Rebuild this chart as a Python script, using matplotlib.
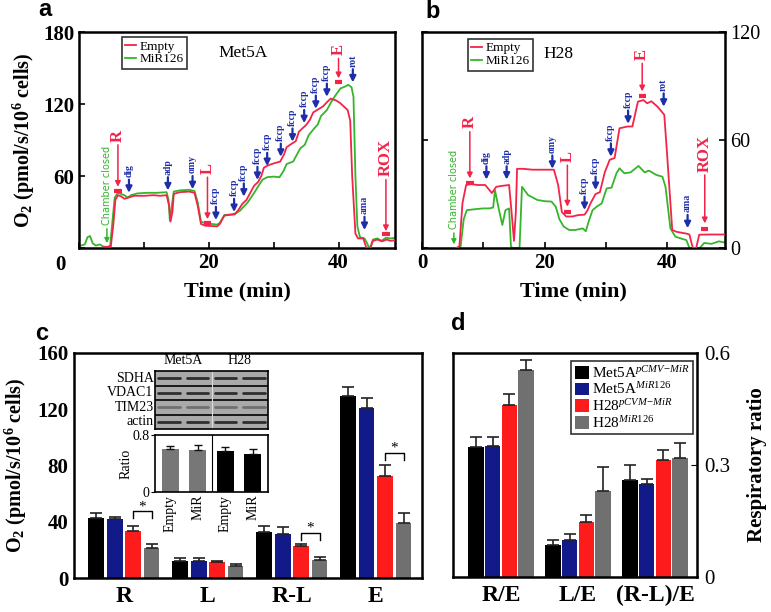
import matplotlib
matplotlib.use('Agg')
import matplotlib.pyplot as plt
import numpy as np
from matplotlib.patches import Patch

plt.rcParams['font.family'] = ['Liberation Serif', 'DejaVu Serif']
plt.rcParams['mathtext.fontset'] = 'custom'
plt.rcParams['mathtext.rm'] = 'Liberation Serif'
plt.rcParams['mathtext.it'] = 'Liberation Serif:italic'
plt.rcParams['mathtext.bf'] = 'Liberation Serif:bold'
plt.rcParams['axes.linewidth'] = 1.8

# ---------------- data: panel a (Met5A traces) ----------------
a_empty_t = [3.8, 4.9, 5.3, 5.6, 6.0, 6.5, 7.0, 7.6, 8.5, 10, 11.5, 12.5, 13.5, 13.9, 14.1, 14.4, 14.6,
             15.5, 17.0, 17.8, 18.3, 18.8, 19.5, 20.5, 21.3, 21.7, 22.4, 23.0, 24.0, 24.6, 25.2, 25.8,
             26.3, 27.0, 27.6, 28.1, 28.5, 29.2, 30.0, 31.0, 31.6, 32.0, 32.8, 33.4, 33.9, 34.5, 35.0,
             35.6, 36.1, 37.0, 37.6, 38.3, 38.8, 39.6, 40.2, 40.6, 41.4, 41.8, 42.1, 42.6, 43.0, 43.8,
             44.3, 44.9, 45.3, 46.0, 46.7, 47.4, 48.0, 48.7]
a_empty_o2 = [1, 1, 20, 40, 44, 43, 41, 42, 43.5, 43.5, 44, 43.5, 44, 35, 22, 30, 45,
              46.5, 47, 46, 35, 20, 18.5, 18.3, 18, 20, 27, 27.5, 28, 32, 37, 40,
              45, 52, 55, 60, 67, 69, 70.5, 72, 78, 84, 87, 89, 97, 100, 102.5,
              107, 113, 116, 118, 122, 124.5, 123, 121, 119, 115, 106, 60, 12, 8, 8,
              0, 0, 6, 7, 5.5, 7, 6, 6.5]
a_mir_t = [0.3, 0.9, 1.3, 1.7, 2.1, 2.6, 3.2, 3.8, 4.3, 4.8, 5.2, 5.5, 6.0, 6.5, 7.0, 7.5, 8.0, 9,
           10.5, 12, 13.5, 13.8, 14.0, 14.3, 14.6, 15.5, 17.0, 17.8, 18.3, 18.8, 19.5, 20.5, 21.3,
           21.7, 22.4, 23.5, 24.2, 24.8, 25.3, 26.0, 27.0, 27.8, 28.3, 29.0, 30.0, 30.9, 31.5, 32.0,
           33.0, 33.6, 34.1, 34.8, 35.4, 36.0, 36.8, 37.3, 38.2, 38.8, 39.5, 40.3, 41.0, 41.5, 42.0,
           42.3, 42.6, 42.9, 43.3, 44.0, 44.4, 44.7, 45.0, 45.3, 46.0, 46.6, 47.3, 48.0, 48.7]
a_mir_o2 = [2, 3, 9, 10, 4, 2, 3, 1, 0.5, 2, 25, 42, 46, 45, 44, 42, 44, 45.5,
            46, 46, 46.5, 40, 23, 35, 47, 48, 48.5, 47.5, 38, 22, 20.5, 20, 19.5,
            21, 27.5, 28, 29, 31, 34, 38, 46, 53, 57, 59, 59.5, 59, 64, 70,
            72, 78, 83, 86, 94, 98, 103, 110, 115, 121, 127, 133, 134.5, 136, 134,
            126, 60, 18, 9, 8, 4, 0, 2, 7, 8, 6, 8.5, 8, 8.5]

# ---------------- data: panel b (H28 traces) ----------------
b_empty_t = [5.6, 6.1, 6.6, 7.2, 8, 9, 10.3, 10.8, 11.4, 12.1, 13, 14.2, 14.6, 15.0, 15.3, 15.5, 16.5,
             18, 20, 21.5, 22.2, 22.8, 23.5, 24.5, 25.5, 26.5, 27.0, 27.5, 28.3, 29.0, 29.8, 30.6,
             31.4, 32.2, 33.5, 34.3, 35.2, 36.1, 36.7, 37.4, 38.4, 39.5, 40.0, 40.8, 41.5, 43.1, 43.6,
             44.0, 44.2, 44.7, 45.2, 47, 49.4]
b_empty_o2 = [0, 1, 25, 35, 35.5, 35, 35, 33, 30.5, 34, 34.5, 35, 20, 4, 20, 44, 44,
              43.5, 43.5, 43.5, 35, 20, 17.5, 17.5, 18.3, 18.5, 21, 25, 30, 31, 42, 49,
              50, 66.5, 67.5, 67.5, 81.3, 82.2, 80.4, 81.5, 78.5, 74, 50, 10, 9, 8, 7.5,
              2, 0, 0, 7.4, 7.5, 7.5]
b_mir_t = [6.1, 6.3, 6.8, 7.3, 8.5, 10, 11.0, 11.6, 11.9, 12.5, 13.1, 13.6, 14.2, 14.5, 14.7, 15.9,
           16.3, 17.3, 18.8, 20, 21.1, 21.8, 22.4, 23.1, 24, 25, 26.2, 26.7, 27.2, 27.8, 28.5, 29.3,
           30.1, 30.9, 31.7, 32.2, 33.0, 34.0, 35.3, 36.3, 37.0, 38.2, 39.2, 39.7, 40.5, 41.3, 42.5,
           43.1, 43.6, 45.3, 46.0, 47.2, 48.4, 49.4]
b_mir_o2 = [0, 1, 16, 21, 21.5, 22, 22, 22.5, 32, 22, 12.8, 21, 22, 1, 0, 0,
            34, 29.4, 26.7, 26, 25.8, 23, 16, 11.9, 10, 10, 10.9, 9.3, 15, 21, 23, 24.8,
            33.1, 33.5, 41.5, 44.3, 41.5, 42, 45.6, 42, 43, 40.6, 39.6, 34, 10.9, 6.3, 5,
            4.4, 0, 0, 2.8, 2.3, 3.7, 3]

# substrate / inhibitor additions: (label, time, arrow tip O2)
a_blue_marks = [('dig', 7.7, 46), ('adp', 13.7, 48), ('omy', 17.5, 49),
                ('fccp', 21.1, 23.3), ('fccp', 23.9, 30), ('fccp', 25.4, 42.8), ('fccp', 27.5, 56.7),
                ('fccp', 29.0, 68.3), ('fccp', 31.1, 76), ('fccp', 32.9, 88.6), ('fccp', 34.7, 104),
                ('fccp', 36.5, 116), ('fccp', 38.2, 126), ('rot', 42.2, 138), ('ama', 44.0, 15)]
# respiratory states: (label, time, arrow tip, arrow tail, bar level)
a_red_marks = [('R', 6.0, 51, 86, 47.5), ('L', 19.8, 24, 59, 20.5),
               ('E', 40.0, 141.4, 158, 138.6), ('ROX', 47.3, 14, 57, 11.5)]
b_blue_marks = [('dig', 10.5, 38), ('adp', 13.8, 38), ('omy', 21.25, 44),
                ('fccp', 26.5, 21.1), ('fccp', 28.3, 32.2), ('fccp', 30.8, 50.7), ('fccp', 33.6, 69),
                ('rot', 39.4, 78.5), ('ama', 43.3, 11)]
b_red_marks = [('R', 7.8, 38.7, 64.6, 36), ('L', 23.7, 23, 46, 20),
               ('E', 35.9, 87, 102.6, 84.4), ('ROX', 46.1, 13.7, 40.6, 10.4)]

# ---------------- data: panel c ----------------
c_groups = ['R', 'L', 'R-L', 'E']
c_met5a_pcmv = [42.7, 12.3, 32.4, 129.6]
c_met5a_pcmv_err = [3.5, 1.9, 4.8, 6.2]
c_met5a_mir = [42.0, 12.3, 31.5, 121.0]
c_met5a_mir_err = [1.4, 1.9, 4.5, 7.0]
c_h28_pcmv = [33.6, 11.4, 22.5, 72.3]
c_h28_pcmv_err = [3.1, 0.9, 1.7, 8.0]
c_h28_mir = [21.3, 8.7, 13.0, 39.0]
c_h28_mir_err = [2.9, 1.3, 1.9, 7.0]
c_sig_groups = [0, 2, 3]
c_sig_levels = [47.4, 32.0, 89.0]

# inset western blot quantification
ratio_labels = ['Empty', 'MiR', 'Empty', 'MiR']
ratio_vals = [0.61, 0.59, 0.58, 0.54]
ratio_err = [0.04, 0.075, 0.055, 0.06]
blot_rows = ['SDHA', 'VDAC1', 'TIM23', 'actin']

# ---------------- data: panel d ----------------
d_groups = ['R/E', 'L/E', '(R-L)/E']
d_met5a_pcmv = [0.349, 0.085, 0.26]
d_met5a_pcmv_err = [0.027, 0.015, 0.04]
d_met5a_mir = [0.35, 0.10, 0.25]
d_met5a_mir_err = [0.026, 0.016, 0.012]
d_h28_pcmv = [0.462, 0.146, 0.313]
d_h28_pcmv_err = [0.027, 0.019, 0.027]
d_h28_mir = [0.555, 0.23, 0.32]
d_h28_mir_err = [0.027, 0.065, 0.04]
series_names = [r'Met5A$^{pCMV\!-\!MiR}$', r'Met5A$^{MiR126}$', r'H28$^{pCVM\!-\!MiR}$', r'H28$^{MiR126}$']

RED = '#f3234a'
GREEN = '#35b52a'
BLUE = '#1d2ea8'
BAR_COLORS = ['#000000', '#111a88', '#fd1b1b', '#707070']

W, H = 771, 612
fig = plt.figure(figsize=(W / 100, H / 100), dpi=100)


def rect(l, t, r, b):
    return [l / W, 1 - b / H, (r - l) / W, (b - t) / H]


def trace_axes(ax, xlim, ylim, yticks, ysize):
    ax.set_xlim(*xlim)
    ax.set_ylim(*ylim)
    ax.set_xticks([0, 20, 40])
    ax.set_xticks([10, 30], minor=True)
    ax.set_yticks(yticks)
    ax.tick_params(which='both', direction='in', length=4, width=1.2, labelsize=15)
    ax.tick_params(axis='y', labelsize=ysize)
    for lab in ax.get_xticklabels() + ax.get_yticklabels():
        lab.set_fontweight('bold')
    ax.set_xlabel('Time (min)', fontsize=16, fontweight='bold', labelpad=6)


def marks(ax, blue_marks, red_marks, blen, chamber):
    for lab, t, tip in blue_marks:
        ax.annotate('', xy=(t, tip), xytext=(t, tip + blen),
                    arrowprops=dict(arrowstyle='-|>', color=BLUE, lw=1.6, mutation_scale=9,
                                    shrinkA=0, shrinkB=0), annotation_clip=False)
        ax.text(t, tip + blen * 1.2, lab, rotation=90, ha='center', va='bottom',
                color=BLUE, fontsize=7, fontweight='bold')
    for lab, t, tip, tail, bar in red_marks:
        ax.annotate('', xy=(t, tip), xytext=(t, tail),
                    arrowprops=dict(arrowstyle='-|>', color=RED, lw=1.1, mutation_scale=8,
                                    shrinkA=0, shrinkB=0), annotation_clip=False)
        ax.text(t, tail + blen * 0.25, lab, rotation=90, ha='center', va='bottom',
                color=RED, fontsize=12, fontweight='bold')
        ax.plot([t - 0.6, t + 0.6], [bar, bar], color=RED, lw=3, solid_capstyle='butt')
    t, tip, tail = chamber
    ax.annotate('', xy=(t, tip), xytext=(t, tail),
                arrowprops=dict(arrowstyle='-|>', color=GREEN, lw=1.1, mutation_scale=7,
                                shrinkA=0, shrinkB=0), annotation_clip=False)
    ax.text(t, tail + blen * 0.3, 'Chamber closed', rotation=90, ha='center', va='bottom',
            color=GREEN, fontsize=7, family=['DejaVu Sans'])


def box_legend(leg):
    leg.get_frame().set_edgecolor('black')
    leg.get_frame().set_linewidth(1.2)


# ---------------- panel a ----------------
ax_a = fig.add_axes(rect(79, 32, 395, 248))
ax_a.plot(a_empty_t, a_empty_o2, color=RED, lw=1.3, label='Empty', zorder=3)
ax_a.plot(a_mir_t, a_mir_o2, color=GREEN, lw=1.3, label='MiR126', zorder=2)
trace_axes(ax_a, (0, 48.7), (0, 180), [0, 60, 120, 180], 15)
ax_a.set_yticklabels(['', '60', '120', '180'])
ax_a.set_xticklabels(['', '20', '40'])
for lab in ax_a.get_xticklabels() + ax_a.get_yticklabels():
    lab.set_fontweight('bold')
ax_a.annotate('0', xy=(-0.06, 0), xycoords='axes fraction', xytext=(0, -5), textcoords='offset points',
              fontsize=15, fontweight='bold', ha='center', va='top')
ax_a.set_ylabel(r'O$_\mathbf{2}$ (pmol/s/10$^\mathbf{6}$ cells)', fontsize=14.5, fontweight='bold', labelpad=4)
marks(ax_a, a_blue_marks, a_red_marks, 11, (4.3, 4, 16))
leg = ax_a.legend(loc='upper left', bbox_to_anchor=(0.136, 0.977), fontsize=9.5, handlelength=0.8,
                  handletextpad=0.3, borderpad=0.25, labelspacing=0.05, frameon=True, fancybox=False,
                  borderaxespad=0)
box_legend(leg)
ax_a.text(0.519, 0.903, 'Met5A', fontsize=12.5, ha='center', va='center', transform=ax_a.transAxes)
fig.text(45 / W, 1 - 10 / H, 'a', fontsize=17, fontweight='bold', family='Liberation Sans', ha='center', va='center')

# ---------------- panel b ----------------
ax_b = fig.add_axes(rect(422, 32, 725, 248))
ax_b.plot(b_empty_t, b_empty_o2, color=RED, lw=1.3, label='Empty', zorder=3)
ax_b.plot(b_mir_t, b_mir_o2, color=GREEN, lw=1.3, label='MiR126', zorder=2)
trace_axes(ax_b, (0, 49.4), (0, 120), [0, 60, 120], 14.5)
ax_b.yaxis.tick_right()
ax_b.tick_params(axis='y', which='both', left=True, right=True, labelleft=False, labelright=True, pad=4)
marks(ax_b, b_blue_marks, b_red_marks, 7.4, (5.2, 2, 8.3))
leg = ax_b.legend(loc='upper left', bbox_to_anchor=(0.152, 0.968), fontsize=9.5, handlelength=0.8,
                  handletextpad=0.3, borderpad=0.25, labelspacing=0.05, frameon=True, fancybox=False,
                  borderaxespad=0)
box_legend(leg)
ax_b.text(0.45, 0.9, 'H28', fontsize=12.5, ha='center', va='center', transform=ax_b.transAxes)
fig.text(433 / W, 1 - 12 / H, 'b', fontsize=17, fontweight='bold', family='Liberation Sans', ha='center', va='center')

# ---------------- panel c ----------------
ax_c = fig.add_axes(rect(74, 353, 422, 578))
c_series = [(c_met5a_pcmv, c_met5a_pcmv_err), (c_met5a_mir, c_met5a_mir_err),
            (c_h28_pcmv, c_h28_pcmv_err), (c_h28_mir, c_h28_mir_err)]
xc = np.arange(len(c_groups))
for i, (vals, errs) in enumerate(c_series):
    ax_c.bar(xc + (i - 1.5) * 0.22, vals, width=0.185, color=BAR_COLORS[i],
             yerr=[[0] * len(errs), errs], error_kw=dict(ecolor='#222222', elinewidth=1.2, capsize=4, capthick=1.2))
for g, lev in zip(c_sig_groups, c_sig_levels):
    x1, x2 = g + 0.5 * 0.22, g + 1.5 * 0.22
    ax_c.plot([x1, x1, x2, x2], [lev - 5, lev, lev, lev - 5], color='black', lw=1)
    ax_c.text((x1 + x2) / 2, lev + 3.2, '*', ha='center', va='center', fontsize=11)
ax_c.set_xlim(-0.595, 3.548)
ax_c.set_ylim(0, 160)
ax_c.set_yticks([0, 40, 80, 120, 160])
ax_c.set_xticks(xc)
ax_c.set_xticklabels(c_groups)
ax_c.tick_params(axis='x', length=0, labelsize=17, pad=6)
ax_c.tick_params(axis='y', length=0, labelsize=15, pad=4)
for lab in ax_c.get_xticklabels() + ax_c.get_yticklabels():
    lab.set_fontweight('bold')
ax_c.set_ylabel(r'O$_\mathbf{2}$ (pmol/s/10$^\mathbf{6}$ cells)', fontsize=14.5, fontweight='bold', labelpad=6)
fig.text(42 / W, 1 - 333 / H, 'c', fontsize=17, fontweight='bold', family='Liberation Sans', ha='center', va='center')

# inset blot
ax_blot = fig.add_axes(rect(155, 371, 268, 429))
ax_blot.set_facecolor('#a9a9a9')
ax_blot.set_xlim(0, 4)
ax_blot.set_ylim(0, 4)
band_cols = ['#2e2e2e', '#2e2e2e', '#707070', '#2e2e2e']
for r in range(4):
    yc = 3.5 - r
    for lane in range(4):
        ax_blot.plot([lane + 0.12, lane + 0.88], [yc, yc], color=band_cols[r], lw=2.0, solid_capstyle='round')
    if r > 0:
        ax_blot.axhline(4 - r, color='black', lw=1.2)
ax_blot.axvline(2, color='#dddddd', lw=0.8)
ax_blot.set_xticks([])
ax_blot.set_yticks([])
for s in ax_blot.spines.values():
    s.set_linewidth(1.2)
for r, name in enumerate(blot_rows):
    ax_blot.text(-0.05, 3.5 - r, name, ha='right', va='center', fontsize=10)
ax_blot.text(1.0, 4.25, 'Met5A', ha='center', va='bottom', fontsize=10)
ax_blot.text(3.0, 4.25, 'H28', ha='center', va='bottom', fontsize=10)

# inset ratio chart
ax_r = fig.add_axes(rect(155, 435, 268, 492))
xr = np.arange(len(ratio_vals))
ax_r.bar(xr, ratio_vals, width=0.62, color=['#777777', '#777777', '#000000', '#000000'],
         yerr=[[0] * 4, ratio_err], error_kw=dict(ecolor='#111111', elinewidth=1, capsize=3, capthick=1))
ax_r.axvline(1.5, color='black', lw=0.8)
ax_r.set_xlim(-0.55, 3.55)
ax_r.set_ylim(0, 0.8)
ax_r.set_yticks([0, 0.8])
ax_r.set_yticklabels(['0', '0.8'])
ax_r.tick_params(axis='y', labelsize=10, length=3, pad=1)
ax_r.set_xticks(xr)
ax_r.set_xticklabels(ratio_labels, rotation=90, fontsize=10)
ax_r.tick_params(axis='x', length=0, pad=2)
ax_r.set_ylabel('Ratio', fontsize=10, labelpad=0)
for s in ax_r.spines.values():
    s.set_linewidth(1.2)

# ---------------- panel d ----------------
ax_d = fig.add_axes(rect(453, 353, 697, 577))
d_series = [(d_met5a_pcmv, d_met5a_pcmv_err), (d_met5a_mir, d_met5a_mir_err),
            (d_h28_pcmv, d_h28_pcmv_err), (d_h28_mir, d_h28_mir_err)]
xd = np.arange(len(d_groups))
handles = []
for i, (vals, errs) in enumerate(d_series):
    ax_d.bar(xd + (i - 1.5) * 0.217, vals, width=0.2, color=BAR_COLORS[i],
             yerr=[[0] * len(errs), errs], error_kw=dict(ecolor='#222222', elinewidth=1.2, capsize=4, capthick=1.2))
    handles.append(Patch(facecolor=BAR_COLORS[i], edgecolor='none', label=series_names[i]))
ax_d.set_xlim(-0.623, 2.545)
ax_d.set_ylim(0, 0.6)
ax_d.set_yticks([0, 0.3, 0.6])
ax_d.set_yticklabels(['0', '0.3', '0.6'])
ax_d.yaxis.tick_right()
ax_d.yaxis.set_label_position('right')
ax_d.tick_params(axis='y', direction='in', length=4, labelsize=15, pad=5)
ax_d.set_xticks(xd)
ax_d.set_xticklabels(d_groups)
ax_d.tick_params(axis='x', length=0, labelsize=17, pad=6)
for lab in ax_d.get_xticklabels():
    lab.set_fontweight('bold')
ax_d.set_ylabel('Respiratory ratio', fontsize=15, fontweight='bold', labelpad=12)
leg = ax_d.legend(handles=handles, loc='upper right', bbox_to_anchor=(0.985, 0.965), fontsize=11,
                  handlelength=0.9, handleheight=0.9, handletextpad=0.2, borderpad=0.25, labelspacing=0.05,
                  frameon=True, fancybox=False, borderaxespad=0)
box_legend(leg)
fig.text(458 / W, 1 - 323 / H, 'd', fontsize=17, fontweight='bold', family='Liberation Sans', ha='center', va='center')

fig.savefig('out.png', dpi=100)
